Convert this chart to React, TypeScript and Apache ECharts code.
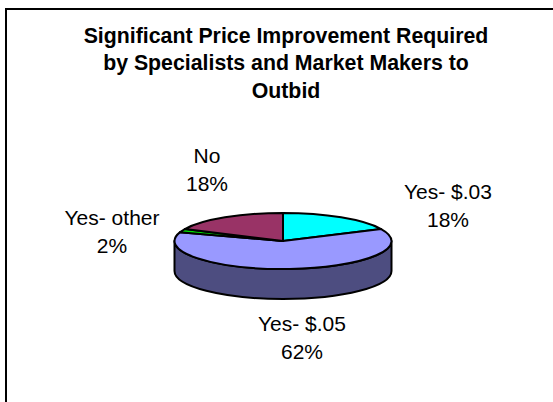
import React, { useEffect, useRef } from "react";
import * as echarts from "echarts";

const categories = ["Yes- $.03", "Yes- $.05", "Yes- other", "No"];
const shares = [18, 62, 2, 18];
const titleLines = ["Significant Price Improvement Required", "by Specialists and Market Makers to", "Outbid"];

const topColors = ["#00ffff", "#9999ff", "#00e000", "#993366"];
const sideColors = ["#008080", "#4d4d80", "#007000", "#4d1a33"];
const labelAnchors = [[448, 205], [302, 337], [112, 231], [207, 169]];

const CX = 283, CY = 241, RX = 108.5, RY = 28, DEPTH = 30;
const FONT = "Liberation Sans, Arial, sans-serif";

function pt(a: number, dy = 0) {
  const rad = (a * Math.PI) / 180;
  return [CX + RX * Math.sin(rad), CY - RY * Math.cos(rad) + dy];
}
const f = (p: number[]) => `${p[0].toFixed(2)} ${p[1].toFixed(2)}`;

export default function App() {
  const ref = useRef<HTMLDivElement>(null);
  useEffect(() => {
    document.body.style.margin = "0";
    const chart = echarts.init(ref.current!, null, { renderer: "svg" });
    const total = shares.reduce((s, v) => s + v, 0);
    const renderItem = (params: any, api: any) => {
      const i = params.dataIndex;
      const before = shares.slice(0, i).reduce((s, v) => s + v, 0);
      const a0 = (before / total) * 360;
      const a1 = a0 + (api.value(0) / total) * 360;
      const children: any[] = [];
      const s0 = Math.max(a0, 90), s1 = Math.min(a1, 270);
      const lineStyle = { stroke: "#000", lineWidth: 2, lineJoin: "round" };
      if (s1 > s0) {
        const large = s1 - s0 > 180 ? 1 : 0;
        children.push({
          type: "path",
          shape: {
            pathData: `M${f(pt(s0))}A${RX} ${RY} 0 ${large} 1 ${f(pt(s1))}L${f(pt(s1, DEPTH))}A${RX} ${RY} 0 ${large} 0 ${f(pt(s0, DEPTH))}Z`,
          },
          style: { fill: sideColors[i], ...lineStyle },
        });
      }
      const large = a1 - a0 > 180 ? 1 : 0;
      children.push({
        type: "path",
        shape: {
          pathData: `M${CX} ${CY}L${f(pt(a0))}A${RX} ${RY} 0 ${large} 1 ${f(pt(a1))}Z`,
        },
        style: { fill: topColors[i], ...lineStyle },
      });
      children.push({
        type: "text",
        x: labelAnchors[i][0],
        y: labelAnchors[i][1],
        style: {
          text: `${categories[i]}\n${api.value(0)}%`,
          fill: "#000",
          font: `21px ${FONT}`,
          lineHeight: 28,
          align: "center",
          verticalAlign: "middle",
        },
      });
      return { type: "group", children };
    };
    chart.setOption({
      animation: false,
      backgroundColor: "#fff",
      title: {
        text: titleLines.join("\n"),
        left: 281,
        top: 17,
        textAlign: "center",
        textStyle: { fontFamily: FONT, fontSize: 21.3, fontWeight: "bold", color: "#000", lineHeight: 27.5 },
      },
      graphic: [
        {
          type: "polyline",
          shape: { points: [[6, 402], [6, 9], [553, 9]] },
          style: { stroke: "#000", lineWidth: 2, fill: "none" },
        },
      ],
      series: [
        {
          type: "custom",
          coordinateSystem: "none",
          renderItem,
          data: shares.map((v, i) => ({ name: categories[i], value: [v] })),
        },
      ],
    });
    return () => chart.dispose();
  }, []);
  return <div ref={ref} style={{ width: 553, height: 402 }} />;
}
